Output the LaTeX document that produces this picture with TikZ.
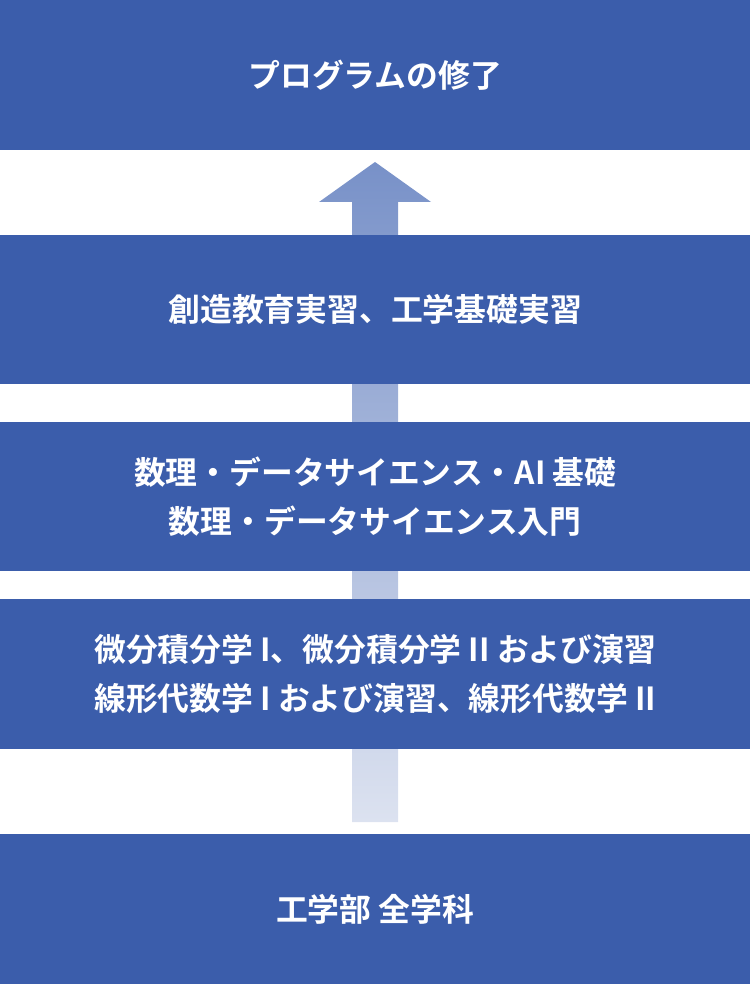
\documentclass[tikz,border=0pt]{standalone}
\usepackage{fontspec}
\setmainfont{Noto Sans CJK JP}[BoldFont={Noto Sans CJK JP Bold}]
\definecolor{boxblue}{HTML}{3B5DAB}
\definecolor{arrtop}{HTML}{7891C8}
\definecolor{arrbot}{HTML}{DCE2F0}
\begin{document}
\begin{tikzpicture}[x=1pt,y=-1pt,
  band/.style={fill=boxblue,draw=none,minimum width=750pt,inner sep=0pt,
    text=white,align=center,anchor=north west,
    font=\fontsize{31.8}{49}\selectfont\bfseries}]
\useasboundingbox (0,0) rectangle (750,984);
% arrow
\shade[top color=arrtop,bottom color=arrbot]
  (352,822) -- (352,202) -- (319,202) -- (375,162) -- (431,202) -- (398,202) -- (398,822) -- cycle;
\node[band,minimum height=150pt] (b1) at (0,0) {プログラムの修了};
\node[band,minimum height=149pt] (b2) at (0,235) {創造教育実習、工学基礎実習};
\node[band,minimum height=149pt] (b3) at (0,422) {数理・データサイエンス・AI 基礎\\数理・データサイエンス入門};
\node[band,minimum height=150pt] (b4) at (0,599) {微分積分学 I、微分積分学 II および演習\\線形代数学 I および演習、線形代数学 II};
\node[band,minimum height=150pt] (b5) at (0,834) {工学部 全学科};
\end{tikzpicture}
\end{document}
